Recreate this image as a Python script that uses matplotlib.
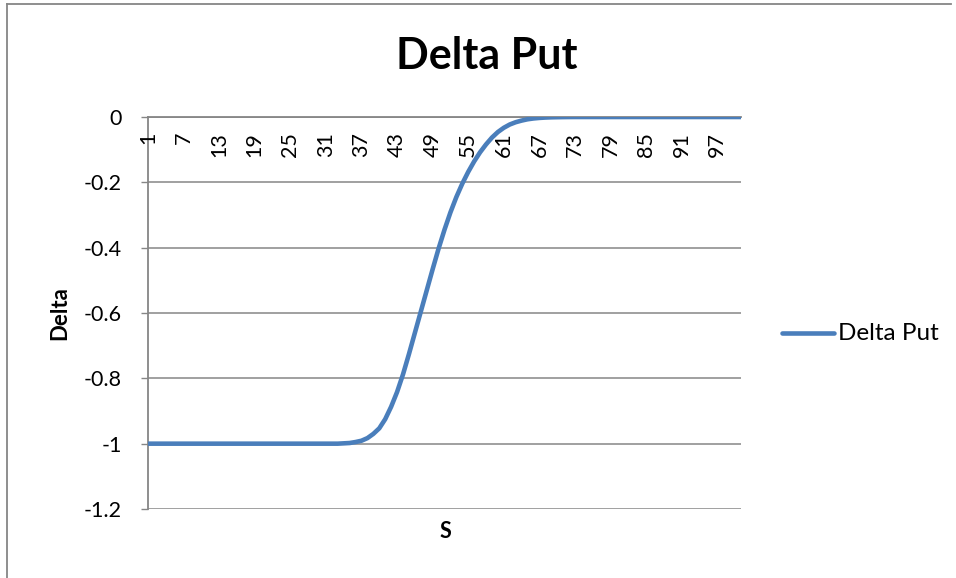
import matplotlib
matplotlib.use("Agg")
import matplotlib.pyplot as plt
from matplotlib.lines import Line2D

plt.rcParams['font.family'] = ['Lato', 'DejaVu Sans']

# Data (S = 1..101)
s_values = list(range(1, 102))
delta_put = (
    [-1.0] * 33 +
    [-0.999, -0.998, -0.995, -0.991, -0.983, -0.970, -0.953, -0.925, -0.887,
     -0.842, -0.788, -0.726, -0.661, -0.596, -0.531, -0.466, -0.403, -0.345,
     -0.292, -0.245, -0.204, -0.168, -0.136, -0.108, -0.084, -0.063, -0.046,
     -0.033, -0.023, -0.016, -0.011, -0.007, -0.0045, -0.0028, -0.0017, -0.001,
     -0.0006, -0.0003, -0.0001] +
    [0.0] * 29
)
x_tick_labels = [str(v) for v in s_values[::6]]
y_ticks = [0, -0.2, -0.4, -0.6, -0.8, -1.0, -1.2]
y_tick_labels = ["0", "-0.2", "-0.4", "-0.6", "-0.8", "-1", "-1.2"]

title = "Delta Put"
series_name = "Delta Put"
x_label = "S"
y_label = "Delta"

W, H = 956, 578
fig = plt.figure(figsize=(W / 100, H / 100), dpi=100)
ax = fig.add_axes([148 / W, 1 - 509 / H, (741 - 148) / W, (509 - 117) / H])

grid_c = "#868686"
line_c = "#4A7EBB"

ax.plot(s_values, delta_put, color=line_c, lw=3.3, solid_capstyle='round', zorder=3)
ax.set_xlim(s_values[0], s_values[-1])
ax.set_ylim(-1.2, 0)

ax.set_yticks(y_ticks)
ax.set_yticklabels(y_tick_labels, fontsize=15.5)
ax.tick_params(axis='y', direction='out', length=5, width=1, color=grid_c, pad=14)
ax.set_xticks([])
for yv in y_ticks:
    ax.axhline(yv, color=grid_c, lw=1.1, zorder=1)

for sp in ['right', 'bottom']:
    ax.spines[sp].set_visible(False)
for sp in ['left', 'top']:
    ax.spines[sp].set_color(grid_c)
    ax.spines[sp].set_linewidth(1.3)

# category labels below the top (zero) axis line
xform = ax.get_xaxis_transform()
for v, lab in zip(s_values[::6], x_tick_labels):
    ax.text(v, 1 - 15 / 392, lab, transform=xform, rotation=90,
            ha='center', va='top', fontsize=15.5)

fig.text(487 / W, 1 - 56 / H, title, ha='center', va='center',
         fontsize=31, fontweight='bold')
fig.text(445 / W, 1 - 532 / H, x_label, ha='center', va='center',
         fontsize=15.5, fontweight='bold')
fig.text(60 / W, 1 - 313 / H, y_label, ha='center', va='center',
         rotation=90, fontsize=16, fontweight='bold')

# legend
fig.add_artist(Line2D([782 / W, 834 / W], [1 - 333 / H, 1 - 333 / H],
                      color=line_c, lw=3.3, solid_capstyle='round'))
fig.text(838 / W, 1 - 333 / H, series_name, ha='left', va='center', fontsize=17.5)

# chart border (left and top)
fig.add_artist(Line2D([7 / W, 7 / W], [0, 1 - 4 / H], color=grid_c, lw=1.3))
fig.add_artist(Line2D([7 / W, 951 / W], [1 - 4 / H, 1 - 4 / H], color=grid_c, lw=1.3))

fig.savefig("out.png", dpi=100, facecolor='white')
